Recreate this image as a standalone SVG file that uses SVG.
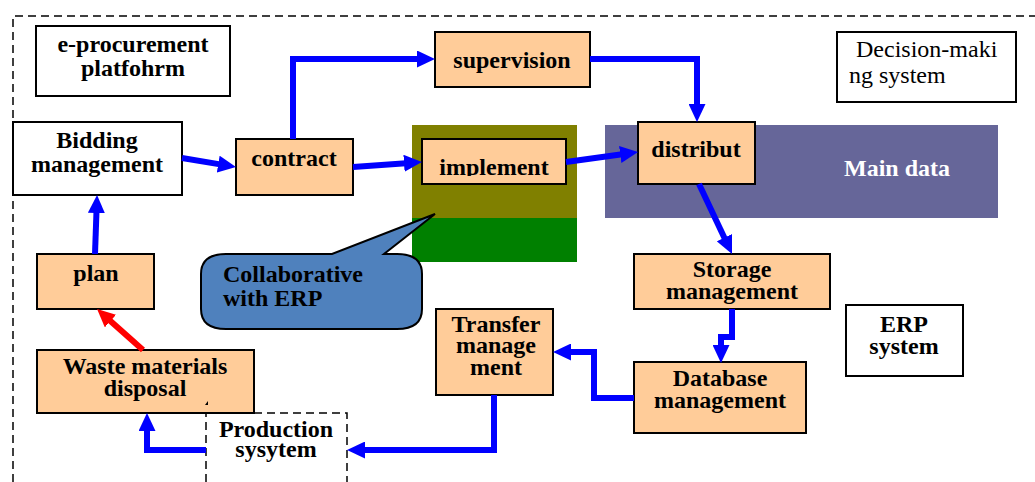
<svg xmlns="http://www.w3.org/2000/svg" width="1035" height="482" viewBox="0 0 1035 482">
  <defs>
    <style>
      .box { fill: #FFCC99; stroke: #000; stroke-width: 2; }
      .plain { fill: #fff; stroke: #000; stroke-width: 2; }
      .lbl { font-family: "Liberation Serif", "Times New Roman", serif; font-weight: bold; font-size: 24px; fill: #000; text-anchor: middle; }
      .reg { font-family: "Liberation Serif", "Times New Roman", serif; font-size: 24px; fill: #000; }
      .dash { fill: none; stroke: #000; stroke-width: 1.5; stroke-dasharray: 8 5; }
      .flow { fill: none; stroke: #0000FF; stroke-width: 6; marker-end: url(#headBlue); }
      .back { fill: none; stroke: #FF0000; stroke-width: 6; marker-end: url(#headRed); }
    </style>
    <marker id="headBlue" viewBox="0 0 18 17" refX="2" refY="8.5" markerWidth="18" markerHeight="17" markerUnits="userSpaceOnUse" orient="auto">
      <path d="M0,0 L18,8.5 L0,17 Z" fill="#0000FF"/>
    </marker>
    <marker id="headRed" viewBox="0 0 18 17" refX="2" refY="8.5" markerWidth="18" markerHeight="17" markerUnits="userSpaceOnUse" orient="auto">
      <path d="M0,0 L18,8.5 L0,17 Z" fill="#FF0000"/>
    </marker>
    <clipPath id="implClip">
      <rect x="422" y="139" width="144" height="37"/>
    </clipPath>
  </defs>

  <!-- outer platform boundary -->
  <path class="dash" d="M13,482 V16 H1035"/>

  <!-- background bands -->
  <g id="collab-band">
    <rect x="412" y="125" width="165" height="93" fill="#808000"/>
    <rect x="412" y="218" width="165" height="44" fill="#008000"/>
  </g>
  <g id="main-data">
    <rect x="605" y="125" width="393" height="93" fill="#666699"/>
    <text class="lbl" x="897" y="176" fill="#fff" style="fill:#fff">Main data</text>
  </g>

  <g id="eprocurement">
    <rect class="plain" x="36" y="26" width="194" height="70"/>
    <text class="lbl" x="133" y="52">e-procurement</text>
    <text class="lbl" x="133" y="76">platfohrm</text>
  </g>

  <g id="decision">
    <rect class="plain" x="837" y="32" width="179" height="70"/>
    <text class="reg" x="856" y="57">Decision-maki</text>
    <text class="reg" x="849" y="83">ng system</text>
  </g>

  <g id="bidding">
    <rect class="plain" x="13" y="122" width="169" height="73"/>
    <text class="lbl" x="97" y="148">Bidding</text>
    <text class="lbl" x="97" y="172">management</text>
  </g>

  <g id="contract">
    <rect class="box" x="236" y="139" width="117" height="56"/>
    <text class="lbl" x="294" y="166">contract</text>
  </g>

  <g id="supervision">
    <rect class="box" x="435" y="32" width="155" height="55"/>
    <text class="lbl" x="512" y="68">supervision</text>
  </g>

  <g id="implement">
    <rect class="box" x="422" y="139" width="144" height="45"/>
    <text class="lbl" x="494" y="175" clip-path="url(#implClip)">implement</text>
  </g>

  <g id="distribut">
    <rect class="box" x="638" y="122" width="117" height="62"/>
    <text class="lbl" x="696" y="157">distribut</text>
  </g>

  <g id="storage">
    <rect class="box" x="634" y="254" width="196" height="55"/>
    <text class="lbl" x="732" y="277">Storage</text>
    <text class="lbl" x="732" y="299">management</text>
  </g>

  <g id="erp">
    <rect class="plain" x="846" y="305" width="117" height="71"/>
    <text class="lbl" x="904" y="332">ERP</text>
    <text class="lbl" x="904" y="354">system</text>
  </g>

  <g id="database">
    <rect class="box" x="634" y="362" width="172" height="71"/>
    <text class="lbl" x="720" y="386">Database</text>
    <text class="lbl" x="720" y="408">management</text>
  </g>

  <g id="transfer">
    <rect class="box" x="436" y="309" width="117" height="86"/>
    <text class="lbl" x="496" y="332">Transfer</text>
    <text class="lbl" x="496" y="353">manage</text>
    <text class="lbl" x="496" y="375">ment</text>
  </g>

  <g id="plan">
    <rect class="box" x="37" y="254" width="117" height="55"/>
    <text class="lbl" x="96" y="281">plan</text>
  </g>

  <g id="waste">
    <rect class="box" x="37" y="350" width="217" height="63"/>
    <text class="lbl" x="145" y="374">Waste materials</text>
    <text class="lbl" x="145" y="396">disposal</text>
    <path d="M205,405 L208,401 L208,405 Z" fill="#000"/>
  </g>

  <g id="production">
    <path class="dash" d="M206,482 V413 H347 V482"/>
    <text class="lbl" x="276" y="437">Production</text>
    <text class="lbl" x="276" y="457">sysytem</text>
  </g>

  <g id="callout">
    <path d="M226,254 H332 L435,214 L384,254 H397 Q422,254 422,274 V309 Q422,329 397,329 H226 Q201,329 201,309 V274 Q201,254 226,254 Z" fill="#4F81BD" stroke="#000" stroke-width="2"/>
    <text class="lbl" x="223" y="282" style="text-anchor:start">Collaborative</text>
    <text class="lbl" x="223" y="306" style="text-anchor:start">with ERP</text>
  </g>

  <g id="connectors">
    <path class="flow" d="M182,158 L220.2,164.4"/>
    <path class="flow" d="M293,139 V59 H419"/>
    <path class="flow" d="M353,167 L406,163.2"/>
    <path class="flow" d="M566,162 L622.2,154.2"/>
    <path class="flow" d="M590,59 H697 V106"/>
    <path class="flow" d="M699,184 L725.2,239.5"/>
    <path class="flow" d="M732,309 V337 H721 V347"/>
    <path class="flow" d="M634,398 H594 V352 H569"/>
    <path class="flow" d="M494,395 V450 H363"/>
    <path class="flow" d="M206,450 H147 V429"/>
    <path class="back" d="M143,350 L109,319.7"/>
    <path class="flow" d="M95,254 L96.5,211"/>
  </g>
</svg>
